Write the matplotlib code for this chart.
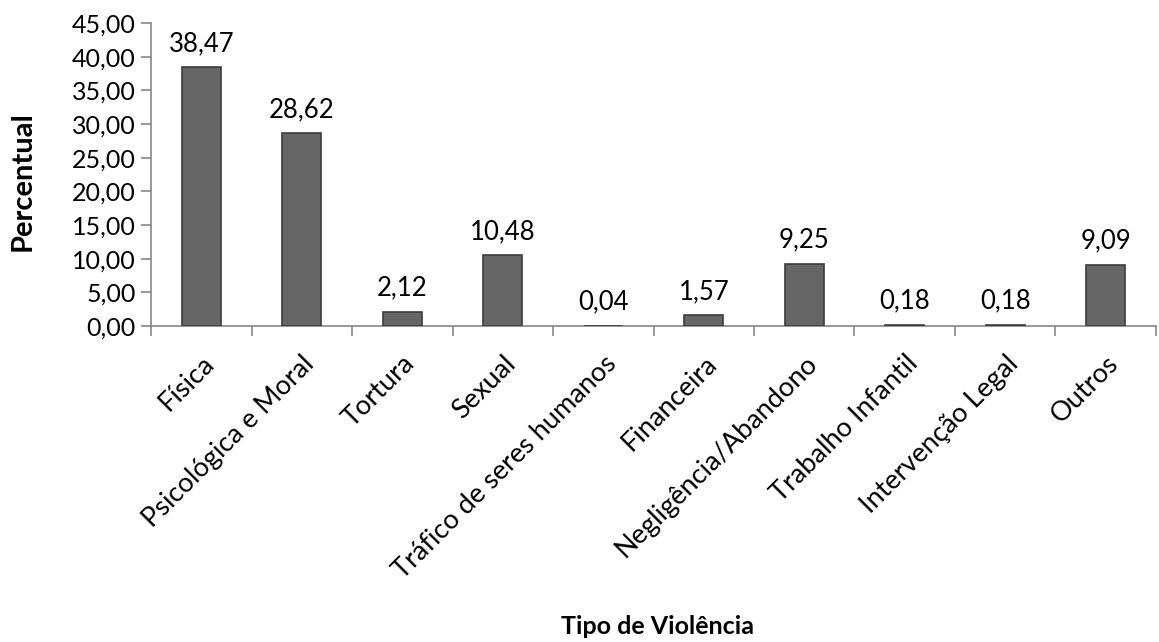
import matplotlib
matplotlib.use('Agg')
import matplotlib.pyplot as plt
import numpy as np

categories = ['Física', 'Psicológica e Moral', 'Tortura', 'Sexual',
              'Tráfico de seres humanos', 'Financeira', 'Negligência/Abandono',
              'Trabalho Infantil', 'Intervenção Legal', 'Outros']
values = [38.47, 28.62, 2.12, 10.48, 0.04, 1.57, 9.25, 0.18, 0.18, 9.09]
yticks = [0, 5, 10, 15, 20, 25, 30, 35, 40, 45]

plt.rcParams['font.family'] = ['Lato', 'DejaVu Sans']
axis_grey = '#868686'

fig = plt.figure(figsize=(11.59, 6.42), dpi=100)
ax = fig.add_axes([0.1303, 0.4922, 0.8671, 0.472])

x = np.arange(len(categories))
bars = ax.bar(x, values, width=0.385, color='#666666', edgecolor='#3c3c3c', linewidth=1.2, zorder=3)

for xi, v in zip(x, values):
  ax.annotate(f'{v:.2f}'.replace('.', ','), (xi, v), xytext=(0, 8),
              textcoords='offset points', ha='center', va='bottom', fontsize=18.5)

ax.set_xlim(-0.5, len(categories) - 0.5)
ax.set_ylim(0, 45)
ax.set_yticks(yticks)
ax.set_yticklabels([f'{t:.2f}'.replace('.', ',') for t in yticks], fontsize=18)

# ticks between categories
ax.set_xticks(x)
ax.set_xticklabels(categories, rotation=45, ha='right', rotation_mode='anchor', fontsize=19.5)
ax.tick_params(axis='x', length=0, pad=18)
ax.set_xticks(np.arange(len(categories) + 1) - 0.5, minor=True)
ax.tick_params(axis='x', which='minor', length=7, color=axis_grey, width=1.2)
ax.tick_params(axis='y', length=7, color=axis_grey, width=1.2, pad=4)

for side in ['top', 'right']:
  ax.spines[side].set_visible(False)
for side in ['left', 'bottom']:
  ax.spines[side].set_color(axis_grey)
  ax.spines[side].set_linewidth(1.2)

fig.text(0.567, 0.006, 'Tipo de Violência', ha='center', va='bottom', fontsize=18, fontweight='bold')
fig.text(0.0198, 0.718, 'Percentual', ha='center', va='center', rotation=90, fontsize=21, fontweight='bold')

fig.savefig('out.png', dpi=100)
